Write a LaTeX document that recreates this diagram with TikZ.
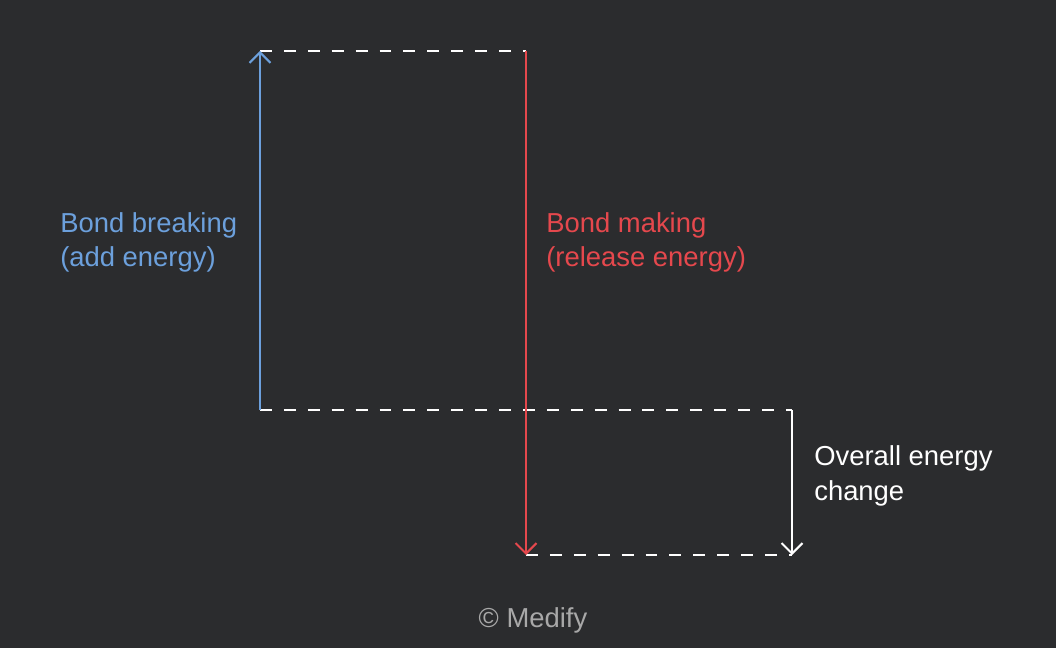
\documentclass[tikz,border=0pt]{standalone}
\usepackage{fontspec}
\setmainfont{Liberation Sans}
\usepackage{tikz}
\usetikzlibrary{arrows.meta}
\definecolor{bgdark}{HTML}{2B2C2E}
\definecolor{breakblue}{HTML}{6CA0DC}
\definecolor{makered}{HTML}{E5484D}
\definecolor{markgray}{HTML}{A8A8A8}
\begin{document}
\begin{tikzpicture}[x=0.025cm,y=-0.025cm,
    level/.style={draw=white,line width=0.9pt,dash pattern=on 8.5pt off 8.5pt},
    energy/.style={draw=#1,line width=1.4pt,-{Straight Barb[length=7.5pt,width=15pt,line width=1.4pt]}},
    labeltext/.style={text=#1,anchor=base west,inner sep=0pt,align=left,
        font=\fontsize{19.5}{24.2}\selectfont}]
\fill[bgdark] (0,0) rectangle (1056,648);
\useasboundingbox (0,0) rectangle (1056,648);
\coordinate (breaktop) at (260,51);
\coordinate (breakbot) at (260,410);
\coordinate (maketop) at (526,51);
\coordinate (makebot) at (526,555);
\coordinate (overtop) at (792,410);
\coordinate (overbot) at (792,555);
% energy levels
\draw[level] (breaktop) -- (maketop);
\draw[level] (breakbot) -- (overtop);
\draw[level] (makebot) -- (overbot);
% arrows
\draw[energy=breakblue] (breakbot) -- (breaktop);
\draw[energy=makered] (maketop) -- (makebot);
\draw[energy=white] (overtop) -- (overbot);
% labels (base = last line)
\node[labeltext=breakblue] (breaking) at (60,267) {Bond breaking\\(add energy)};
\node[labeltext=makered] (making) at (546,267) {Bond making\\(release energy)};
\node[labeltext=white] (overall) at (814,500) {Overall energy\\change};
\node[text=markgray,anchor=base,inner sep=0pt,font=\fontsize{19.5}{24.2}\selectfont] (medify) at (533,627) {© Medify};
\end{tikzpicture}
\end{document}
